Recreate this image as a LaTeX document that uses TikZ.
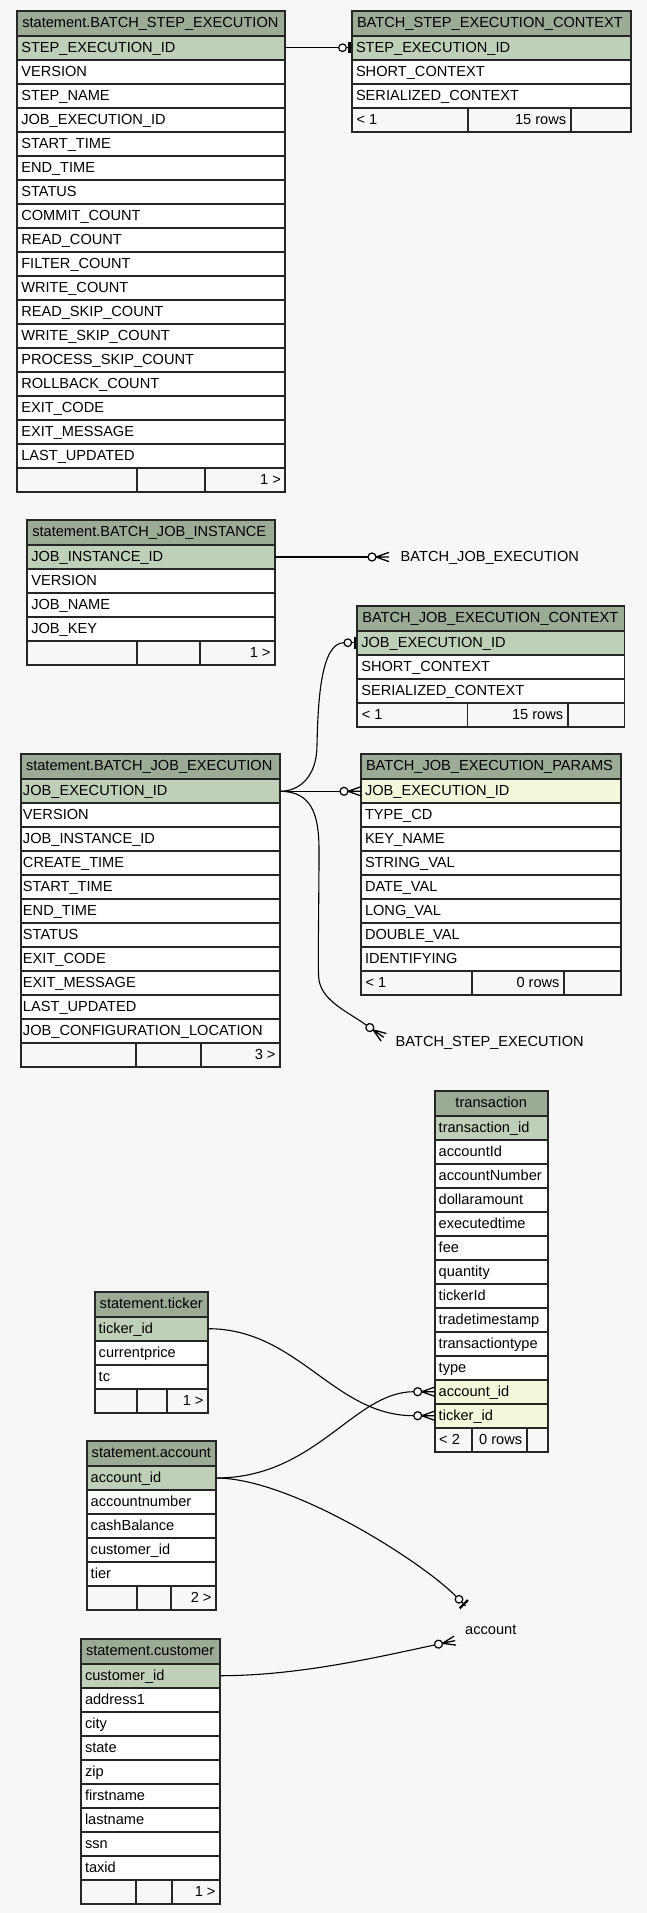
\documentclass[tikz,border=0pt]{standalone}
\usepackage{fontspec}
\setmainfont{Liberation Sans}
\usetikzlibrary{calc}
\definecolor{bgc}{HTML}{F7F7F7}
\definecolor{hdrc}{HTML}{9BAB96}
\definecolor{pkc}{HTML}{BED1B8}
\definecolor{fkc}{HTML}{F4F7DA}
\definecolor{bdc}{HTML}{262626}
\tikzset{
  cellbase/.style={draw=bdc, line width=1.7pt, inner ysep=0pt, outer sep=0pt,
    font=\fontsize{14.6}{17}\selectfont, anchor=north west},
  hdrcell/.style={cellbase, fill=hdrc, minimum height=25pt, inner xsep=5pt,
    text height=10.5pt, text depth=2.3pt},
  rowcell/.style={cellbase, minimum height=24pt, inner xsep=4pt,
    text height=11pt, text depth=1.8pt},
  footcell/.style={rowcell, fill=bgc, inner xsep=4.5pt},
  edge/.style={line width=1.1pt, black},
  lbl/.style={font=\fontsize{14.6}{17}\selectfont, inner sep=0pt, anchor=base west},
  zeroone/.pic={
    \draw[line width=1.1pt] (-5.8,0) -- (0,0);
    \draw[line width=1.2pt, fill=bgc] (-9.5,0) circle[radius=3.8];
    \draw[line width=2.4pt] (-2.6,-5.8) -- (-2.6,5.8);
  },
  zeromany/.pic={
    \draw[line width=1.2pt, fill=bgc] (-17,0) circle[radius=4];
    \draw[line width=1.3pt] (-13,0) -- (0,0) (-13,0) -- (0,4.6) (-13,0) -- (0,-4.6);
  }
}
% #1 id, #2 x1, #3 x2, #4 top, #5 title, #6 rows, #7 title align (l/c), #8 row xsep
\newcommand\erdtable[8]{%
  \pgfmathsetmacro\tabw{#3-#2}%
  \pgfmathsetmacro\hdrtw{#3-#2-10}%
  \pgfmathsetmacro\rowtw{#3-#2-2*#8}%
  \node[hdrcell, minimum width=\tabw pt] (#1-0) at (#2,#4) {\makebox[\hdrtw pt][#7]{#5}};
  \foreach \kc/\txt [count=\i] in {#6} {%
    \pgfmathsetmacro\ry{#4+25+(\i-1)*24}%
    \node[rowcell, fill=\kc, minimum width=\tabw pt, inner xsep=#8pt] (#1-\i) at (#2,\ry)
      {\makebox[\rowtw pt][l]{\txt}};
  }%
}
% #1 id, #2 x1, #3 d1, #4 d2, #5 x2, #6 y, #7-#9 texts
\newcommand\erdfoot[9]{%
  \pgfmathsetmacro\fwa{#3-#2}\pgfmathsetmacro\fwb{#4-#3}\pgfmathsetmacro\fwc{#5-#4}%
  \pgfmathsetmacro\fta{#3-#2-9}\pgfmathsetmacro\ftb{#4-#3-9}\pgfmathsetmacro\ftc{#5-#4-9}%
  \node[footcell, minimum width=\fwa pt] (#1-fa) at (#2,#6) {\makebox[\fta pt][l]{#7}};
  \node[footcell, minimum width=\fwb pt] (#1-fb) at (#3,#6) {\makebox[\ftb pt][r]{#8}};
  \node[footcell, minimum width=\fwc pt] (#1-fc) at (#4,#6) {\makebox[\ftc pt][r]{#9}};
}
\begin{document}
\begin{tikzpicture}[x=1pt,y=-1pt]
\useasboundingbox (0,0) rectangle (647,1913);
\fill[bgc] (0,0) rectangle (647,1913);

% BATCH_STEP_EXECUTION
\erdtable{bse}{17.3}{285.3}{10.7}{statement.BATCH\_STEP\_EXECUTION}{pkc/STEP\_EXECUTION\_ID, white/VERSION, white/STEP\_NAME, white/JOB\_EXECUTION\_ID, white/START\_TIME, white/END\_TIME, white/STATUS, white/COMMIT\_COUNT, white/READ\_COUNT, white/FILTER\_COUNT, white/WRITE\_COUNT, white/READ\_SKIP\_COUNT, white/WRITE\_SKIP\_COUNT, white/PROCESS\_SKIP\_COUNT, white/ROLLBACK\_COUNT, white/EXIT\_CODE, white/EXIT\_MESSAGE, white/LAST\_UPDATED}{l}{4}
\erdfoot{bse}{17.3}{137}{205.3}{285.3}{467.7}{}{}{1 >}

% BATCH_STEP_EXECUTION_CONTEXT
\erdtable{bsec}{352}{630.7}{10.7}{BATCH\_STEP\_EXECUTION\_CONTEXT}{pkc/STEP\_EXECUTION\_ID, white/SHORT\_CONTEXT, white/SERIALIZED\_CONTEXT}{l}{4}
\erdfoot{bsec}{352}{467.7}{570.7}{630.7}{107.7}{< 1}{15 rows}{}

% BATCH_JOB_INSTANCE
\erdtable{bji}{27.3}{275}{520}{statement.BATCH\_JOB\_INSTANCE}{pkc/JOB\_INSTANCE\_ID, white/VERSION, white/JOB\_NAME, white/JOB\_KEY}{l}{4}
\erdfoot{bji}{27.3}{137}{200}{275}{641}{}{}{1 >}

% BATCH_JOB_EXECUTION_CONTEXT
\erdtable{bjec}{357.3}{624.5}{605.7}{BATCH\_JOB\_EXECUTION\_CONTEXT}{pkc/JOB\_EXECUTION\_ID, white/SHORT\_CONTEXT, white/SERIALIZED\_CONTEXT}{l}{4}
\erdfoot{bjec}{357.3}{467.6}{567.7}{624.5}{702.7}{< 1}{15 rows}{}

% BATCH_JOB_EXECUTION
\erdtable{bje}{21}{280}{754.3}{statement.BATCH\_JOB\_EXECUTION}{pkc/JOB\_EXECUTION\_ID, white/VERSION, white/JOB\_INSTANCE\_ID, white/CREATE\_TIME, white/START\_TIME, white/END\_TIME, white/STATUS, white/EXIT\_CODE, white/EXIT\_MESSAGE, white/LAST\_UPDATED, white/JOB\_CONFIGURATION\_LOCATION}{l}{2}
\erdfoot{bje}{21}{135.7}{201.3}{280}{1043.3}{}{}{3 >}

% BATCH_JOB_EXECUTION_PARAMS
\erdtable{par}{361}{621}{754.3}{BATCH\_JOB\_EXECUTION\_PARAMS}{fkc/JOB\_EXECUTION\_ID, white/TYPE\_CD, white/KEY\_NAME, white/STRING\_VAL, white/DATE\_VAL, white/LONG\_VAL, white/DOUBLE\_VAL, white/IDENTIFYING}{l}{4}
\erdfoot{par}{361}{471.7}{564}{621}{971.3}{< 1}{0 rows}{}

% transaction
\erdtable{tx}{434.7}{547.7}{1090.7}{transaction}{pkc/transaction\_id, white/accountId, white/accountNumber, white/dollaramount, white/executedtime, white/fee, white/quantity, white/tickerId, white/tradetimestamp, white/transactiontype, white/type, fkc/account\_id, fkc/ticker\_id}{c}{4}
\erdfoot{tx}{434.7}{472}{526.7}{547.7}{1427.7}{< 2}{0 rows}{}

% ticker
\erdtable{tic}{94.7}{208}{1291.7}{statement.ticker}{pkc/ticker\_id, white/currentprice, white/tc}{l}{4}
\erdfoot{tic}{94.7}{137}{166.7}{208}{1388.7}{}{}{1 >}

% account
\erdtable{acc}{86.7}{216}{1441}{statement.account}{pkc/account\_id, white/accountnumber, white/cashBalance, white/customer\_id, white/tier}{l}{4}
\erdfoot{acc}{86.7}{137}{170.7}{216}{1586}{}{}{2 >}

% customer
\erdtable{cus}{81}{220}{1638.7}{statement.customer}{pkc/customer\_id, white/address1, white/city, white/state, white/zip, white/firstname, white/lastname, white/ssn, white/taxid}{l}{4}
\erdfoot{cus}{81}{136}{172.3}{220}{1879.7}{}{}{1 >}

% labels of tables outside the picture
\node[lbl] (l-bje) at (400.5,561.5) {BATCH\_JOB\_EXECUTION};
\node[lbl] (l-bse) at (395.5,1046.5) {BATCH\_STEP\_EXECUTION};
\node[lbl] (l-acc) at (465,1634.5) {account};
\coordinate (t-bje) at (389,557);
\coordinate (t-bse) at (383.75,1037.3);
\coordinate (t-acc1) at (465.7,1606);
\coordinate (t-acc2) at (455.1,1640.6);

% connectors
\draw[edge] (bse-1.east) -- ([xshift=-13.3pt]bsec-1.west);
\pic at (bsec-1.west) {zeroone};

\draw[edge] (bji-1.east) -- ([xshift=-21pt]t-bje);
\pic at (t-bje) {zeromany};

\draw[edge] (bje-1.east) .. controls (300,791.3) and (317,776) .. (317,745)
  .. controls (318,700) and (321,642.7) .. ([xshift=-13.3pt]bjec-1.west);
\pic at (bjec-1.west) {zeroone};

\draw[edge] (bje-1.east) -- ([xshift=-21pt]par-1.west);
\pic at (par-1.west) {zeromany};

\draw[edge] (bje-1.east) .. controls (312,791.3) and (319,815) .. (319,850)
  .. controls (319,900) and (318,940) .. (318.5,975)
  .. controls (319,1000) and (346,1010.5) .. ([shift={(-17.2,-12.05)}]t-bse);
\pic[rotate=-35] at (t-bse) {zeromany};

\draw[edge] (acc-1.east) .. controls (316,1478) and (353.7,1391.7) .. ([xshift=-21pt]tx-12.west);
\pic at (tx-12.west) {zeromany};

\draw[edge] (tic-1.east) .. controls (298,1328.7) and (333.7,1415.7) .. ([xshift=-21pt]tx-13.west);
\pic at (tx-13.west) {zeromany};

\draw[edge] (acc-1.east) .. controls (290,1478) and (420,1560) .. ([shift={(-9.4,-9.4)}]t-acc1);
\pic[rotate=-45] at (t-acc1) {zeroone};

\draw[edge] (cus-1.east) .. controls (300,1675.7) and (380,1656.5) .. ([shift={(-20.54,4.37)}]t-acc2);
\pic[rotate=12] at (t-acc2) {zeromany};
\end{tikzpicture}
\end{document}
